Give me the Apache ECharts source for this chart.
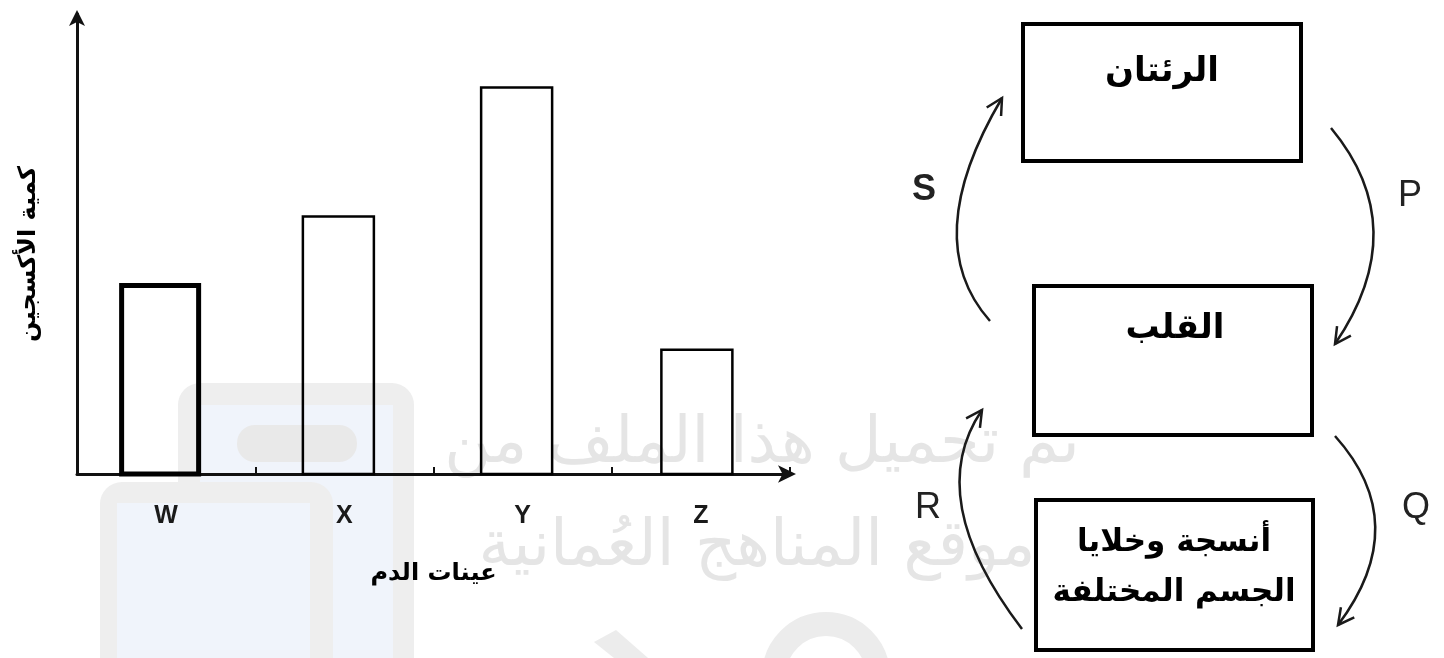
<!DOCTYPE html>
<html>
<head>
<meta charset="utf-8">
<script src="https://cdn.jsdelivr.net/npm/echarts@6/dist/echarts.min.js"></script>
<style>
  html, body { margin: 0; padding: 0; background: #fff; }
  #chart { width: 1444px; height: 658px; }
</style>
</head>
<body>
<div id="chart"></div>
<script>
// ---- data ----
var categories = ['W', 'X', 'Y', 'Z'];
var oxygenValues = [4.1, 5.6, 8.4, 2.7];
var yAxisName = 'كمية الأكسجين';
var xAxisName = 'عينات الدم';
var boxTexts = ['الرئتان', 'القلب', 'أنسجة وخلايا\nالجسم المختلفة'];
var arrowLetters = ['S', 'P', 'R', 'Q'];
var watermarkLines = ['تم تحميل هذا الملف من', 'موقع المناهج العُمانية'];

var AR = 'DejaVu Sans, sans-serif';
var LAT = 'Arial, Liberation Sans, sans-serif';

var chart = echarts.init(document.getElementById('chart'), null, { renderer: 'canvas' });

// arcs: [x1,y1, cpx,cpy, x2,y2]
var arcs = [
  [990, 321, 918, 240, 1002, 98],
  [1331, 128, 1414, 228, 1335, 344],
  [1022, 629, 922, 498, 982, 410],
  [1335, 436, 1414, 524, 1338, 625]
];
var letterPos = [[924, 190, 'bold'], [1410, 196, 'normal'], [928, 508, 'normal'], [1416, 508, 'normal']];
var boxes = [
  [1023, 24, 278, 137],
  [1034, 286, 278, 149],
  [1036, 500, 277, 150]
];
var boxTextPos = [[1162, 72], [1175, 329], [1174, 568]];

var graphics = [];
// watermark logo (behind)
graphics.push({ type: 'rect', z: -20, shape: { x: 178, y: 383, width: 236, height: 330, r: 22 }, style: { fill: '#eeeeee' }, silent: true });
graphics.push({ type: 'rect', z: -19, shape: { x: 200, y: 405, width: 193, height: 300 }, style: { fill: '#f0f4fb' }, silent: true });
graphics.push({ type: 'rect', z: -18, shape: { x: 237, y: 425, width: 120, height: 37, r: 18 }, style: { fill: '#e9e9e9' }, silent: true });
graphics.push({ type: 'rect', z: -17, shape: { x: 100, y: 482, width: 233, height: 230, r: 22 }, style: { fill: '#eeeeee' }, silent: true });
graphics.push({ type: 'rect', z: -16, shape: { x: 117, y: 503, width: 193, height: 200 }, style: { fill: '#f0f4fb' }, silent: true });
graphics.push({ type: 'polygon', z: -16, shape: { points: [[594, 642], [616, 630], [648, 658], [614, 658]] }, style: { fill: '#ececec' }, silent: true });
graphics.push({ type: 'arc', z: -16, shape: { cx: 826, cy: 676, r: 52, startAngle: Math.PI * 1.0, endAngle: Math.PI * 2.0 }, style: { stroke: '#ececec', lineWidth: 24, fill: 'none' }, silent: true });
// watermark text
graphics.push({ type: 'text', z: -15, style: { text: watermarkLines[0], x: 762, y: 445, font: '64px ' + AR, fill: '#e5e5e5', textAlign: 'center', textVerticalAlign: 'middle' }, silent: true });
graphics.push({ type: 'text', z: -15, style: { text: watermarkLines[1], x: 757, y: 548, font: '64px ' + AR, fill: '#e5e5e5', textAlign: 'center', textVerticalAlign: 'middle' }, silent: true });

// boxes
boxes.forEach(function (b, i) {
  graphics.push({ type: 'rect', z: 10, shape: { x: b[0], y: b[1], width: b[2], height: b[3] }, style: { fill: '#fff', stroke: '#000', lineWidth: 4 } });
  graphics.push({ type: 'text', z: 11, style: { text: boxTexts[i], x: boxTextPos[i][0], y: boxTextPos[i][1], font: 'bold ' + (i === 2 ? 31 : 34) + 'px ' + AR, fill: '#000', textAlign: 'center', textVerticalAlign: 'middle', lineHeight: 50 } });
});
// arcs and arrow heads
arcs.forEach(function (a, i) {
  graphics.push({ type: 'bezierCurve', z: 10, shape: { x1: a[0], y1: a[1], cpx1: a[2], cpy1: a[3], x2: a[4], y2: a[5] }, style: { stroke: '#1a1a1a', lineWidth: 2.5, fill: 'none' } });
  var dx = a[4] - a[2], dy = a[5] - a[3];
  var ang = Math.atan2(dy, dx);
  var L = 18, sp = Math.PI / 6.5;
  var p1 = [a[4] - L * Math.cos(ang - sp), a[5] - L * Math.sin(ang - sp)];
  var p2 = [a[4] - L * Math.cos(ang + sp), a[5] - L * Math.sin(ang + sp)];
  graphics.push({ type: 'polyline', z: 10, shape: { points: [p1, [a[4], a[5]], p2] }, style: { stroke: '#1a1a1a', lineWidth: 2.5, fill: 'none' } });
  graphics.push({ type: 'text', z: 10, style: { text: arrowLetters[i], x: letterPos[i][0], y: letterPos[i][1], font: letterPos[i][2] + ' 36px ' + LAT, fill: '#222', textAlign: 'center', textVerticalAlign: 'middle' } });
});

var barData = oxygenValues.map(function (v, i) { return [i, v]; });

chart.setOption({
  backgroundColor: '#fff',
  animation: false,
  grid: { left: 77, right: 654, top: 14, bottom: 184 },
  xAxis: {
    type: 'category',
    data: categories,
    name: xAxisName,
    nameLocation: 'middle',
    nameGap: 88,
    nameTextStyle: { fontFamily: AR, fontWeight: 'bold', fontSize: 24, color: '#000' },
    axisLine: { lineStyle: { color: '#111', width: 3 }, symbol: ['none', 'arrow'], symbolSize: [13, 18], symbolOffset: [0, 6] },
    axisTick: { show: true, inside: true, length: 7, lineStyle: { color: '#111', width: 2 } },
    axisLabel: {
      margin: 30,
      formatter: '{lab|{value}}',
      rich: { lab: { fontFamily: LAT, fontSize: 25, fontWeight: 'bold', color: '#1a1a1a' } }
    }
  },
  yAxis: {
    type: 'value',
    min: 0,
    max: 10,
    name: yAxisName,
    nameLocation: 'middle',
    nameGap: 36,
    nameRotate: 90,
    nameTextStyle: { fontFamily: AR, fontWeight: 'bold', fontSize: 24, color: '#000', padding: [0, 20, 0, 0] },
    axisLine: { show: true, lineStyle: { color: '#111', width: 3 }, symbol: ['none', 'arrow'], symbolSize: [12, 16], symbolOffset: [0, 4] },
    axisTick: { show: false },
    axisLabel: { show: false },
    splitLine: { show: false }
  },
  series: [
    {
      type: 'custom',
      data: barData,
      encode: { x: 0, y: 1 },
      z: 3,
      renderItem: function (params, api) {
        var idx = params.dataIndex;
        var top = api.coord([api.value(0), api.value(1)]);
        var base = api.coord([api.value(0), 0]);
        var w = idx === 0 ? 77 : 71;
        var cx = top[0] - (idx === 3 ? 4 : 6);
        return {
          type: 'rect',
          shape: { x: cx - w / 2, y: top[1], width: w, height: base[1] - top[1] },
          style: { fill: 'none', stroke: '#000', lineWidth: idx === 0 ? 5 : 2.5 }
        };
      }
    }
  ],
  graphic: graphics
});
</script>
</body>
</html>
